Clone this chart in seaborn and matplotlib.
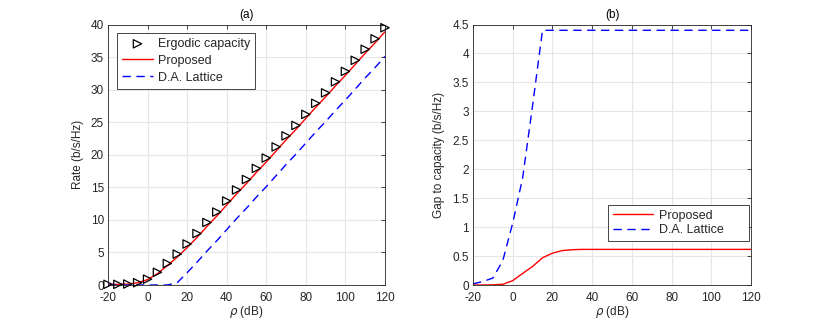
import numpy as np
import pandas as pd
import seaborn as sns
import matplotlib.pyplot as plt
from matplotlib.ticker import FuncFormatter

# SNR grid (dB)
snr_db = [-20, -15, -10, -5, 0, 5, 10, 15, 20, 25, 30, 35, 40, 45, 50,
          55, 60, 65, 70, 75, 80, 85, 90, 95, 100, 105, 110, 115, 120]

# (a) rates (b/s/Hz)
ergodic_capacity = [0.1, 0.1, 0.15, 0.35, 0.9, 1.95, 3.3, 4.75, 6.3, 7.9, 9.6, 11.2, 12.9,
                    14.6, 16.2, 17.9, 19.5, 21.2, 22.9, 24.5, 26.2, 27.9, 29.5, 31.2,
                    32.8, 34.5, 36.2, 37.8, 39.5]
proposed_rate = [0.1, 0.1, 0.14, 0.34, 0.83, 1.75, 2.98, 4.28, 5.75, 7.3, 8.99, 10.59, 12.29,
                 13.99, 15.59, 17.29, 18.89, 20.59, 22.29, 23.89, 25.59, 27.29, 28.89, 30.59,
                 32.19, 33.89, 35.59, 37.19, 38.89]
lattice_rate = [0.0, 0.0, 0.0, 0.0, 0.0, 0.0, 0.0, 0.35, 1.9, 3.5, 5.2, 6.8, 8.5,
                10.2, 11.8, 13.5, 15.1, 16.8, 18.5, 20.1, 21.8, 23.5, 25.1, 26.8,
                28.4, 30.1, 31.8, 33.4, 35.1]

# (b) gap to capacity (b/s/Hz)
proposed_gap = [0.0, 0.0, 0.003, 0.012, 0.075, 0.2, 0.32, 0.47, 0.55, 0.595, 0.61, 0.615, 0.615,
                0.615, 0.615, 0.615, 0.615, 0.615, 0.615, 0.615, 0.615, 0.615, 0.615, 0.615,
                0.615, 0.615, 0.615, 0.615, 0.615]
lattice_gap = [0.02, 0.06, 0.12, 0.42, 1.07, 1.85, 3.1, 4.4, 4.4, 4.4, 4.4, 4.4, 4.4,
               4.4, 4.4, 4.4, 4.4, 4.4, 4.4, 4.4, 4.4, 4.4, 4.4, 4.4,
               4.4, 4.4, 4.4, 4.4, 4.4]

sns.set_style('white')
plt.rcParams['font.family'] = ['Liberation Sans', 'DejaVu Sans']
plt.rcParams['font.size'] = 8
plt.rcParams['mathtext.fontset'] = 'dejavusans'
plt.rcParams['axes.unicode_minus'] = False

dark = '#262626'
grid_c = '#e6e6e6'

fig = plt.figure(figsize=(8.3, 3.2), dpi=100)
ax1 = fig.add_axes([108 / 830, 1 - 285 / 320, 277 / 830, 260.5 / 320])
ax2 = fig.add_axes([473 / 830, 1 - 285 / 320, 278 / 830, 260.5 / 320])

rate_df = pd.DataFrame({'snr': snr_db, 'cap': ergodic_capacity,
                        'prop': proposed_rate, 'lat': lattice_rate})
gap_df = pd.DataFrame({'snr': snr_db, 'prop': proposed_gap, 'lat': lattice_gap})

# (a)
sns.lineplot(data=rate_df, x='snr', y='prop', ax=ax1, color='#ff0000', lw=1.0,
             label='Proposed', zorder=3)
sns.lineplot(data=rate_df, x='snr', y='lat', ax=ax1, color='#0000ff', lw=1.0,
             label='D.A. Lattice', zorder=3)
ax1.lines[-1].set_linestyle((0, (6, 4)))
sns.scatterplot(data=rate_df, x='snr', y='cap', ax=ax1, marker='>', s=36,
                facecolor='none', edgecolor='black', linewidth=0.9,
                label='Ergodic capacity', zorder=4, clip_on=False)

# (b)
sns.lineplot(data=gap_df, x='snr', y='prop', ax=ax2, color='#ff0000', lw=1.0,
             label='Proposed')
sns.lineplot(data=gap_df, x='snr', y='lat', ax=ax2, color='#0000ff', lw=1.0,
             label='D.A. Lattice')
ax2.lines[-1].set_linestyle((0, (6, 4)))

fmt = FuncFormatter(lambda v, p: f'{v:g}')
for ax, ylim, ystep, ylabel, title in [
        (ax1, 40, 5, 'Rate (b/s/Hz)', '(a)'),
        (ax2, 4.5, 0.5, 'Gap to capacity (b/s/Hz)', '(b)')]:
    ax.set_xlim(-20, 120)
    ax.set_ylim(0, ylim)
    ax.set_xticks(np.arange(-20, 121, 20))
    ax.set_yticks(np.arange(0, ylim + 1e-9, ystep))
    ax.yaxis.set_major_formatter(fmt)
    ax.grid(True, color=grid_c, lw=0.8)
    ax.set_axisbelow(True)
    ax.tick_params(direction='in', length=3, width=0.6, colors=dark, labelsize=8.5,
                   top=True, right=True)
    ax.tick_params(axis='x', pad=5)
    ax.tick_params(axis='y', pad=3)
    for s in ax.spines.values():
        s.set_color(dark)
        s.set_linewidth(0.6)
    ax.set_xlabel(r'$\rho$ (dB)', fontsize=8.5, color=dark, labelpad=0)
    ax.set_ylabel(ylabel, fontsize=8.5, color=dark, labelpad=5)
    ax.set_title(title, fontsize=8.5, color='black', pad=5)

# legends in MATLAB style
h, l = ax1.get_legend_handles_labels()
order = [l.index('Ergodic capacity'), l.index('Proposed'), l.index('D.A. Lattice')]
leg1 = ax1.legend([h[i] for i in order], [l[i] for i in order], loc='upper left',
                  bbox_to_anchor=(0.032, 0.967), fontsize=9, frameon=True, fancybox=False,
                  edgecolor=dark, framealpha=1, handlelength=2.5, borderpad=0.4,
                  labelspacing=0.38, handletextpad=0.4, borderaxespad=0)
leg1.get_frame().set_linewidth(0.6)

h2, l2 = ax2.get_legend_handles_labels()
leg2 = ax2.legend(h2, [t + '      ' for t in l2], loc='lower right',
                  bbox_to_anchor=(0.993, 0.17), fontsize=9,
                  frameon=True, fancybox=False, edgecolor=dark, framealpha=1,
                  handlelength=3.2, borderpad=0.35, labelspacing=0.2,
                  handletextpad=0.5, borderaxespad=0)
leg2.get_frame().set_linewidth(0.6)

fig.savefig('out.png', dpi=100)
